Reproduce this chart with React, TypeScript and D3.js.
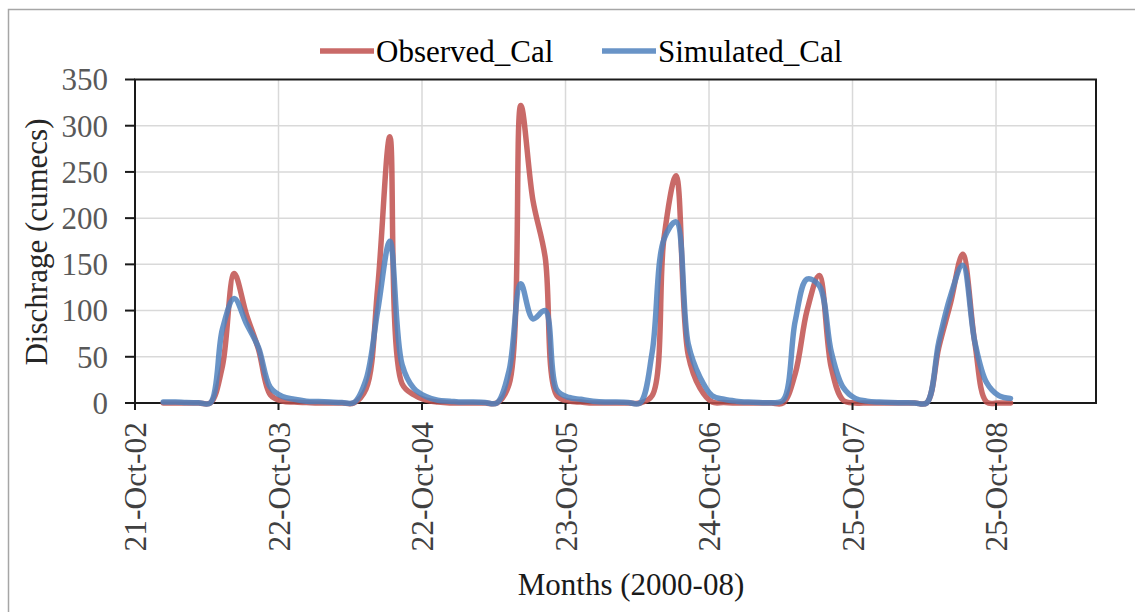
import React from 'react'
import * as d3 from 'd3'

const WIDTH = 1135
const HEIGHT = 612
const margin = { top: 79.5, right: 39, bottom: 209, left: 135 }

// monthly series, Jan 2003 .. Dec 2008
const firstMonth = new Date(2003, 0, 1)
const observed = [
  0, 0, 0, 0, 0, 40, 140, 96, 58, 9, 2, 1,
  0.5, 0, 0, 0, 0, 15, 125, 288, 21, 9, 3, 1,
  0, 0, 0, 0, 0, 20, 322, 219, 158, 8, 2, 1,
  0, 0, 0, 0, 0, 8, 178, 246, 52, 16, 1, 0.5,
  0, 0, 0, 0, 0, 32, 100, 138, 38, 3, 0, 0,
  0, 0, 0, 0, 0, 60, 108, 161, 65, 1, 0, 0
]
const simulated = [
  1, 1, 0.5, 0.3, 0, 80, 113, 86, 60, 17, 7, 4,
  2, 1.5, 1, 0.5, 0.3, 25, 100, 175, 42, 16, 7, 3,
  2, 1, 1, 0.5, 0, 35, 129, 91, 100, 14, 6, 4,
  2, 1, 1, 0.5, 0, 55, 177, 196, 64, 28, 8, 4,
  2, 1, 0.5, 0.3, 3, 89, 134, 127, 55, 17, 5, 2,
  1, 0.5, 0.3, 0, 0, 66, 116, 149, 66, 22, 8, 5
]

const series = [
  { name: 'Observed_Cal', values: observed, color: '#C0504D' },
  { name: 'Simulated_Cal', values: simulated, color: '#4F81BD' }
]

// axis: starts 21-Oct-02, labels every 366 days
const axisStart = new Date(2002, 9, 21)
const axisDays = 2451
const tickStepDays = 366
const tickCount = 7
const yTicks = [0, 50, 100, 150, 200, 250, 300, 350]

const FONT = '"Liberation Serif", "Times New Roman", serif'

const App = () => {
  const chartW = WIDTH - margin.left - margin.right
  const chartH = HEIGHT - margin.top - margin.bottom

  const xScale = d3
    .scaleTime()
    .domain([axisStart, d3.timeDay.offset(axisStart, axisDays)])
    .range([0, chartW])

  const yScale = d3.scaleLinear().domain([0, 350]).range([chartH, 0])

  const xTicks = d3.range(tickCount).map(k => d3.timeDay.offset(axisStart, k * tickStepDays))
  const fmt = d3.timeFormat('%d-%b-%y')

  const line = d3
    .line<number>()
    .x((d, i) => xScale(d3.timeMonth.offset(firstMonth, i)))
    .y(d => yScale(d))
    .curve(d3.curveCatmullRom.alpha(0.5))

  return (
    <svg
      width={WIDTH}
      height={HEIGHT}
      style={{ position: 'absolute', left: 0, top: 0, background: '#fff' }}
      fontFamily={FONT}
    >
      {/* outer chart border */}
      <rect x={8.5} y={9.5} width={WIDTH} height={HEIGHT + 20} fill="none" stroke="#a6a6a6" strokeWidth={1.5} />

      {/* legend */}
      <g transform="translate(0,51)">
        {series.map((s, i) => {
          const x0 = i === 0 ? 320 : 602
          return (
            <g key={s.name}>
              <line x1={x0} x2={x0 + 54} y1={0} y2={0} stroke={s.color} strokeOpacity={0.85} strokeWidth={5.5} />
              <text x={x0 + 56} y={11} fontSize={31} fill="#000">{s.name}</text>
            </g>
          )
        })}
      </g>

      <g transform={`translate(${margin.left},${margin.top})`}>
        {/* gridlines */}
        {yTicks.slice(1, -1).map(t => (
          <line key={t} x1={0} x2={chartW} y1={yScale(t)} y2={yScale(t)} stroke="#d9d9d9" strokeWidth={1.5} />
        ))}
        {xTicks.slice(1).map(t => (
          <line key={+t} x1={xScale(t)} x2={xScale(t)} y1={0} y2={chartH} stroke="#d9d9d9" strokeWidth={1.5} />
        ))}

        {/* plot frame */}
        <rect x={0} y={0} width={chartW} height={chartH} fill="none" stroke="#1a1a1a" strokeWidth={2} />

        {/* series */}
        {series.map(s => (
          <path
            key={s.name}
            d={line(s.values) || ''}
            fill="none"
            stroke={s.color}
            strokeOpacity={0.85}
            strokeWidth={5.5}
            strokeLinejoin="round"
            strokeLinecap="round"
          />
        ))}

        {/* y axis */}
        {yTicks.map(t => (
          <g key={t} transform={`translate(0,${yScale(t)})`}>
            <line x1={-10} x2={0} stroke="#1a1a1a" strokeWidth={2} />
            <text x={-27} dy="0.35em" textAnchor="end" fontSize={31} fill="#595959">{t}</text>
          </g>
        ))}

        {/* x axis */}
        {xTicks.map(t => (
          <g key={+t} transform={`translate(${xScale(t)},${chartH})`}>
            <line y1={0} y2={7} stroke="#1a1a1a" strokeWidth={2} />
            <text
              transform="translate(0,19) rotate(-90)"
              dy="0.35em"
              textAnchor="end"
              fontSize={31.5}
              fill="#404040"
            >
              {fmt(t)}
            </text>
          </g>
        ))}
      </g>

      {/* axis titles */}
      <text x={631} y={595} textAnchor="middle" fontSize={31} fill="#1a1a1a">Months (2000-08)</text>
      <text transform="translate(47,242) rotate(-90)" textAnchor="middle" fontSize={31} fill="#262626">
        Dischrage (cumecs)
      </text>
    </svg>
  )
}

export default App
